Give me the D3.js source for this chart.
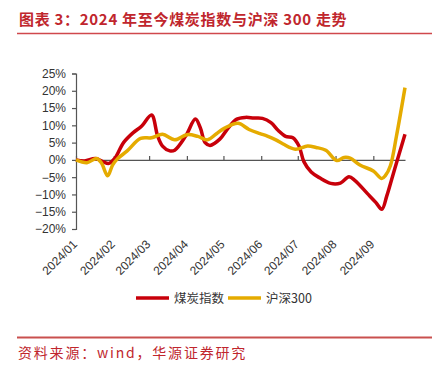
<!DOCTYPE html>
<html>
<head>
<meta charset="utf-8">
<script src="https://cdn.jsdelivr.net/npm/d3@7"></script>
<style>
  body { margin: 0; background: #fff; }
  svg { display: block; }
</style>
</head>
<body>
<script>
var width = 443,
    height = 374;

// 煤炭指数 (cumulative % since start of 2024)
var coalDates = ["2024-01-01","2024-01-08","2024-01-17","2024-01-23","2024-01-28","2024-02-02","2024-02-09","2024-02-17","2024-02-24","2024-03-03","2024-03-08","2024-03-12","2024-03-18","2024-03-22","2024-03-31","2024-04-08","2024-04-12","2024-04-16","2024-04-20","2024-04-28","2024-05-05","2024-05-12","2024-05-19","2024-05-26","2024-06-02","2024-06-09","2024-06-15","2024-06-21","2024-06-27","2024-07-02","2024-07-06","2024-07-12","2024-07-19","2024-07-28","2024-08-05","2024-08-12","2024-08-17","2024-08-27","2024-09-03","2024-09-08","2024-09-12","2024-09-17","2024-09-22","2024-09-27"];
var coalValues = [0,-0.3,0.4,-0.5,-1.0,0.5,5.0,7.9,9.8,13.0,6.9,4.0,2.6,2.8,6.9,11.8,9.3,5.0,4.2,6.0,9.3,11.8,12.3,12.1,12.0,10.8,8.5,6.8,6.4,4.0,-0.5,-3.5,-5.2,-6.8,-6.7,-4.9,-6.0,-9.7,-12.3,-14.3,-10.5,-4.5,1.5,7.4];

// 沪深300
var csiDates = ["2024-01-01","2024-01-10","2024-01-18","2024-01-22","2024-01-27","2024-01-31","2024-02-04","2024-02-12","2024-02-23","2024-03-03","2024-03-12","2024-03-22","2024-04-01","2024-04-10","2024-04-18","2024-04-25","2024-05-02","2024-05-13","2024-05-22","2024-05-31","2024-06-06","2024-06-13","2024-06-19","2024-06-29","2024-07-09","2024-07-16","2024-07-24","2024-08-02","2024-08-08","2024-08-13","2024-08-21","2024-09-01","2024-09-08","2024-09-11","2024-09-15","2024-09-20","2024-09-27"];
var csiValues = [0,-0.8,0.4,-1.0,-4.6,-1.5,0.3,2.6,6.2,6.4,7.4,5.8,7.3,6.8,5.8,7.5,9.2,10.6,8.8,7.6,6.9,5.8,4.6,3.1,4.0,3.6,2.8,-0.2,0.7,0.5,-1.5,-3.2,-5.4,-4.5,-1.7,6.9,20.9];

var monthLabels = ["2024/01","2024/02","2024/03","2024/04","2024/05","2024/06","2024/07","2024/08","2024/09"];
var yTicks = [-20,-15,-10,-5,0,5,10,15,20,25];
var seriesNames = ["煤炭指数","沪深300"];
var seriesColors = ["#c8000a","#e5ab00"];

var parse = d3.utcParse("%Y-%m-%d");

var svg = d3.select("body")
  .append("svg")
  .attr("width", width)
  .attr("height", height);

// header + footer rules
svg.append("text")
  .attr("x", 19)
  .attr("y", 25)
  .attr("fill", "#c0262d")
  .attr("font-family", "'Noto Sans CJK SC', sans-serif")
  .attr("font-weight", "bold")
  .attr("font-size", 15)
  .attr("letter-spacing", 0.7)
  .text("图表 3：2024 年至今煤炭指数与沪深 300 走势");

svg.append("line")
  .attr("x1", 17).attr("x2", 432)
  .attr("y1", 33.5).attr("y2", 33.5)
  .attr("stroke", "#d0484c")
  .attr("stroke-width", 1.5);

svg.append("line")
  .attr("x1", 17).attr("x2", 432)
  .attr("y1", 337.5).attr("y2", 337.5)
  .attr("stroke", "#c9504f")
  .attr("stroke-width", 2);

svg.append("text")
  .attr("x", 18)
  .attr("y", 358)
  .attr("fill", "#c0262d")
  .attr("font-family", "'Noto Sans CJK SC', sans-serif")
  .attr("font-size", 14)
  .attr("letter-spacing", 1.8)
  .text("资料来源：wind，华源证券研究");

// scales
var x = d3.scaleUtc()
  .domain([parse("2024-01-01"), parse("2024-09-27")])
  .range([76, 405]);

var y = d3.scaleLinear()
  .domain([-20, 25])
  .range([229, 73.5]);

// y axis
var yAxis = svg.append("g")
  .attr("transform", "translate(76,0)")
  .call(d3.axisLeft(y)
    .tickValues(yTicks)
    .tickSize(4)
    .tickSizeOuter(4)
    .tickPadding(6)
    .tickFormat(function(d) { return (d < 0 ? "\u2212" : "") + Math.abs(d) + "%"; }));

yAxis.selectAll("path, line").attr("stroke", "#555").attr("stroke-width", 1.2);
yAxis.selectAll("text")
  .attr("fill", "#333")
  .attr("font-family", "'Liberation Sans', Arial, sans-serif")
  .attr("font-size", 12);

// zero line with month ticks pointing up
var monthDates = monthLabels.map(function(m) { return parse(m.replace("/", "-") + "-01"); });

var xAxis = svg.append("g")
  .attr("transform", "translate(0," + y(0) + ")")
  .call(d3.axisBottom(x)
    .tickValues(monthDates)
    .tickSize(-4)
    .tickSizeOuter(0)
    .tickFormat(""));

xAxis.selectAll("path, line").attr("stroke", "#555").attr("stroke-width", 1.2);

// rotated month labels
svg.append("g")
  .selectAll("text")
  .data(monthLabels)
  .enter().append("text")
    .attr("transform", function(d, i) {
      return "translate(" + (x(monthDates[i]) + 2) + ",245) rotate(-45)";
    })
    .attr("text-anchor", "end")
    .attr("fill", "#333")
    .attr("font-family", "'Liberation Sans', Arial, sans-serif")
    .attr("font-size", 12)
    .text(function(d) { return d; });

// lines
var line = d3.line()
  .x(function(d) { return x(d.date); })
  .y(function(d) { return y(d.value); })
  .curve(d3.curveCatmullRom.alpha(0.5));

var series = [
  coalDates.map(function(d, i) { return { date: parse(d), value: coalValues[i] }; }),
  csiDates.map(function(d, i) { return { date: parse(d), value: csiValues[i] }; })
];

svg.append("g")
  .selectAll("path")
  .data(series)
  .enter().append("path")
    .attr("fill", "none")
    .attr("stroke", function(d, i) { return seriesColors[i]; })
    .attr("stroke-width", 3.5)
    .attr("stroke-linejoin", "round")
    .attr("d", line);

// legend
var legend = svg.append("g")
  .selectAll("g")
  .data(seriesNames)
  .enter().append("g")
    .attr("transform", function(d, i) { return "translate(" + (136 + i * 92) + ",298)"; });

legend.append("line")
  .attr("x1", 0).attr("x2", 33)
  .attr("stroke", function(d, i) { return seriesColors[i]; })
  .attr("stroke-width", 3.5);

legend.append("text")
  .attr("x", 38)
  .attr("y", 4.5)
  .attr("fill", "#333")
  .attr("font-family", "'Noto Sans CJK SC', sans-serif")
  .attr("font-size", 12.5)
  .text(function(d) { return d; });
</script>
</body>
</html>
